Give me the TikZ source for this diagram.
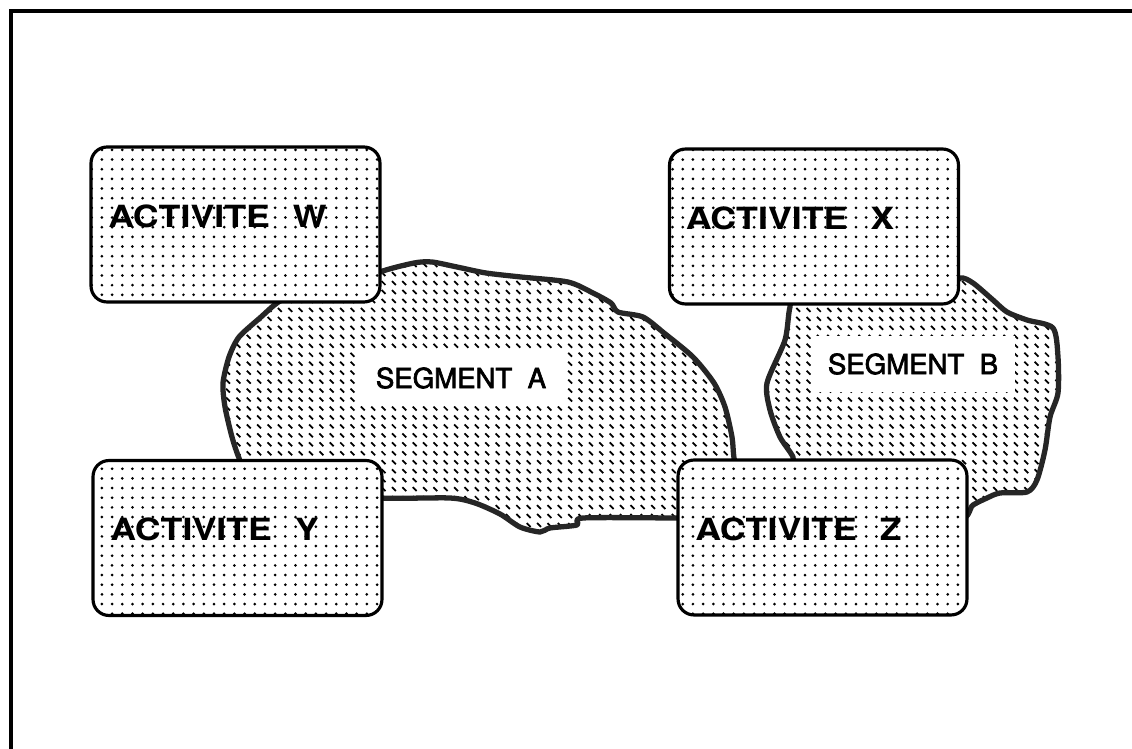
\documentclass[tikz,border=0pt]{standalone}
\usepackage{fontspec}
\newfontfamily\actfont[FakeStretch=1.17]{TeX Gyre Heros}
\newfontfamily\segfont[FakeBold=2.5]{TeX Gyre Heros}
\usetikzlibrary{positioning,patterns.meta}

\pgfdeclarepattern{
  name=boxdots,
  type=uncolored,
  bottom left={\pgfpoint{-1pt}{-1pt}},
  top right={\pgfpoint{1pt}{1pt}},
  tile size={\pgfpoint{5.8pt}{5.5pt}},
  code={\pgfpathcircle{\pgfpointorigin}{0.85pt}\pgfusepath{fill}}
}
\pgfdeclarepattern{
  name=blobdash,
  type=uncolored,
  bottom left={\pgfpoint{-1.5pt}{-1.5pt}},
  top right={\pgfpoint{1.5pt}{1.5pt}},
  tile size={\pgfpoint{5.9pt}{5.1pt}},
  code={\pgfsetlinewidth{1pt}\pgfpathmoveto{\pgfpoint{-1.1pt}{1.1pt}}\pgfpathlineto{\pgfpoint{1.1pt}{-1.1pt}}\pgfusepath{stroke}}
}

\begin{document}
\begin{tikzpicture}[x=0.02cm,y=-0.02cm,
  actbox/.style={draw,line width=1.8pt,rounded corners=0.32cm,minimum width=5.78cm,minimum height=3.1cm,preaction={fill=white},pattern=boxdots},
  acttxt/.style={inner sep=0pt,font=\actfont\bfseries\fontsize{17.4}{20}\selectfont},
  seglab/.style={fill=white,inner sep=0pt,minimum width=4.1cm,minimum height=1.14cm,font=\segfont\fontsize{15.7}{18}\selectfont},
  blob/.style={draw=black!85,line width=3pt,line join=round,preaction={fill=white},pattern=blobdash}]
\useasboundingbox (0,0) rectangle (1132,749);
\draw[line width=2pt] (11,749) -- (11,11) -- (1132,11);
\draw[blob] plot[smooth cycle,tension=0.45] coordinates {(360,285) (380,272) (414,263) (432,262) (457,267) (486,273) (521,277) (568,282) (593,293) (611,303) (618,312) (643,317) (664,333) (693,357) (714,383) (725,407) (732,437) (734,458) (740,490) (700,518) (676,518) (583,518) (577,525) (550,528) (540,532) (520,527) (500,514) (475,503) (450,498) (382,498) (360,490) (250,480) (239,458) (232,437) (225,407) (223,383) (229,357) (239,337) (261,317) (277,303) (300,290)};
\draw[blob] plot[smooth cycle,tension=0.45] coordinates {(940,290) (960,278) (973,283) (993,300) (1007,312) (1027,320) (1053,328) (1058,357) (1058,393) (1050,417) (1045,450) (1037,480) (1027,492) (1000,493) (987,498) (973,505) (950,520) (800,480) (793,457) (780,437) (770,410) (767,383) (785,340) (790,307) (800,290)};
\node[seglab] (segA) at (461,378) {SEGMENT~~A};
\node[seglab] (segB) at (913,364) {SEGMENT~~B};
\node[actbox] (actW) at (235.5,224.5) {};
\node[actbox] (actX) at (814,226.5) {};
\node[actbox] (actY) at (237.5,538) {};
\node[actbox] (actZ) at (822.5,537.5) {};
\node[acttxt,right=0.37cm of actW.west,yshift=0.17cm] (txtW) {ACTIVITE\hspace{0.46cm}W};
\node[acttxt,right=0.35cm of actX.west,yshift=0.17cm] (txtX) {ACTIVITE\hspace{0.46cm}X};
\node[acttxt,right=0.37cm of actY.west,yshift=0.17cm] (txtY) {ACTIVITE\hspace{0.46cm}Y};
\node[acttxt,right=0.37cm of actZ.west,yshift=0.17cm] (txtZ) {ACTIVITE\hspace{0.46cm}Z};
\end{tikzpicture}
\end{document}
